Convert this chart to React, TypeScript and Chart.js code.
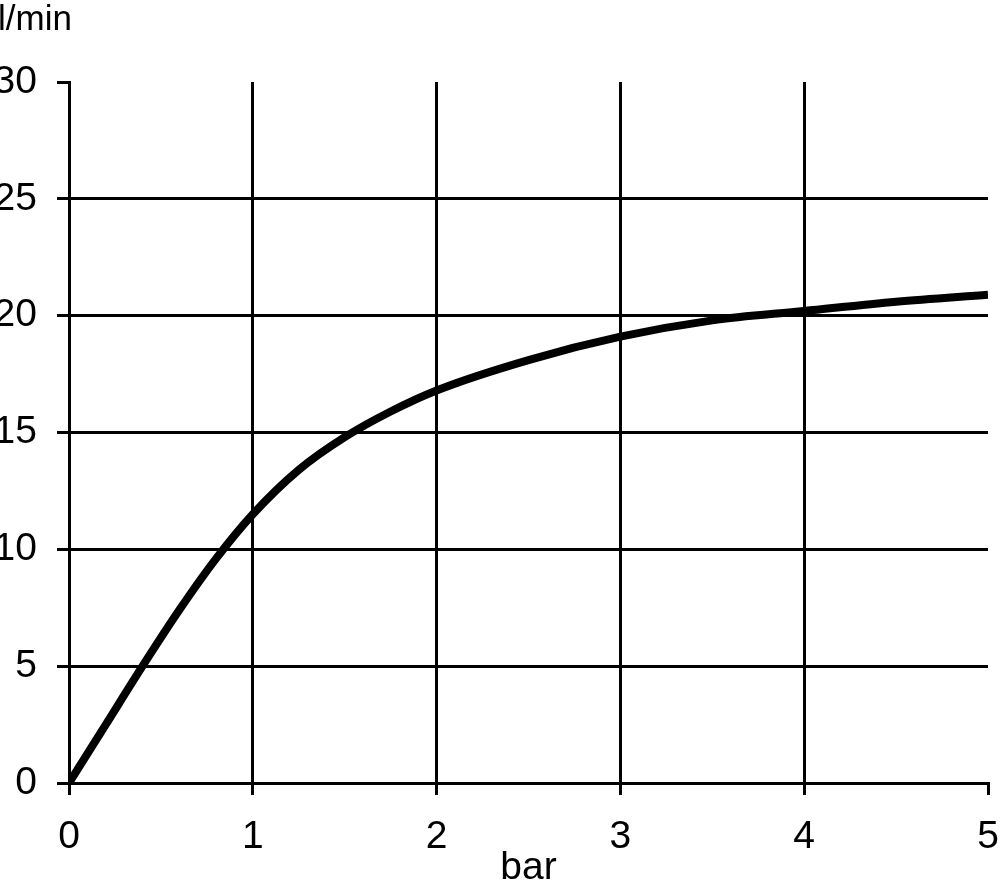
import React, { useEffect, useRef } from "react";
import { Chart, registerables } from "chart.js";

Chart.register(...registerables);

const pressureBar = [0, 0.2, 0.4, 0.6, 0.8, 1.0, 1.25, 1.5, 1.75, 2.0, 2.5, 3.0, 3.5, 4.0, 4.5, 5.0];
const flowLMin = [0, 2.5, 5.0, 7.4, 9.6, 11.5, 13.4, 14.8, 15.9, 16.8, 18.1, 19.1, 19.8, 20.2, 20.6, 20.9];
const yTicks = [0, 5, 10, 15, 20, 25, 30];
const xTicks = [0, 1, 2, 3, 4, 5];
const yAxisLabel = "l/min";
const xAxisLabel = "bar";

const FONT = "'Liberation Sans', Arial, sans-serif";
const NARROW = "'Liberation Sans Narrow', 'Liberation Sans', Arial, sans-serif";

const unitLabelPlugin = {
  id: "unitLabel",
  afterDraw(chart: any) {
    const ctx = chart.ctx;
    ctx.save();
    ctx.font = `35px ${FONT}`;
    ctx.fillStyle = "#000";
    ctx.textAlign = "left";
    ctx.textBaseline = "alphabetic";
    ctx.fillText(yAxisLabel, -2, 30);
    ctx.restore();
  },
};

export default function App() {
  const ref = useRef<HTMLCanvasElement | null>(null);
  useEffect(() => {
    if (!ref.current) return;
    const chart = new Chart(ref.current, {
      type: "line",
      data: {
        datasets: [
          {
            data: pressureBar.map((x, i) => ({ x, y: flowLMin[i] })),
            borderColor: "#000",
            borderWidth: 8,
            pointRadius: 0,
            cubicInterpolationMode: "monotone",
            fill: false,
          },
        ],
      },
      options: {
        animation: false,
        responsive: true,
        maintainAspectRatio: false,
        layout: { padding: { top: 82, right: 12, left: 0, bottom: 0 } },
        plugins: { legend: { display: false }, tooltip: { enabled: false }, title: { display: false } },
        scales: {
          x: {
            type: "linear",
            min: 0,
            max: 5,
            afterBuildTicks: (s: any) => {
              s.ticks = xTicks.map((v) => ({ value: v }));
            },
            afterFit: (s: any) => {
              s.height = 101;
              s.paddingRight = 12;
              s.paddingLeft = 0;
            },
            ticks: { color: "#000", font: { family: NARROW, size: 39 }, padding: 19, maxRotation: 0 },
            grid: {
              color: (c: any) => (c.tick && c.tick.value === 5 ? "rgba(0,0,0,0)" : "#000"),
              tickColor: "#000",
              lineWidth: 3,
              tickLength: 12,
            },
            border: { display: true, color: "#000", width: 3 },
            title: {
              display: true,
              text: xAxisLabel,
              color: "#000",
              font: { family: NARROW, size: 39, lineHeight: 0.8 },
              padding: { top: 0, bottom: 0 },
            },
          },
          y: {
            type: "linear",
            min: 0,
            max: 30,
            afterBuildTicks: (s: any) => {
              s.ticks = yTicks.map((v) => ({ value: v }));
            },
            afterFit: (s: any) => {
              s.width = 69;
            },
            ticks: { color: "#000", font: { family: NARROW, size: 39 }, padding: 20 },
            grid: {
              color: (c: any) => (c.tick && c.tick.value === 30 ? "rgba(0,0,0,0)" : "#000"),
              tickColor: "#000",
              lineWidth: 3,
              tickLength: 12,
            },
            border: { display: true, color: "#000", width: 3 },
          },
        },
      },
      plugins: [unitLabelPlugin],
    } as any);
    return () => chart.destroy();
  }, []);
  return (
    <div style={{ position: "absolute", left: 0, top: 0, width: 1000, height: 884, background: "#fff" }}>
      <canvas ref={ref} />
    </div>
  );
}
